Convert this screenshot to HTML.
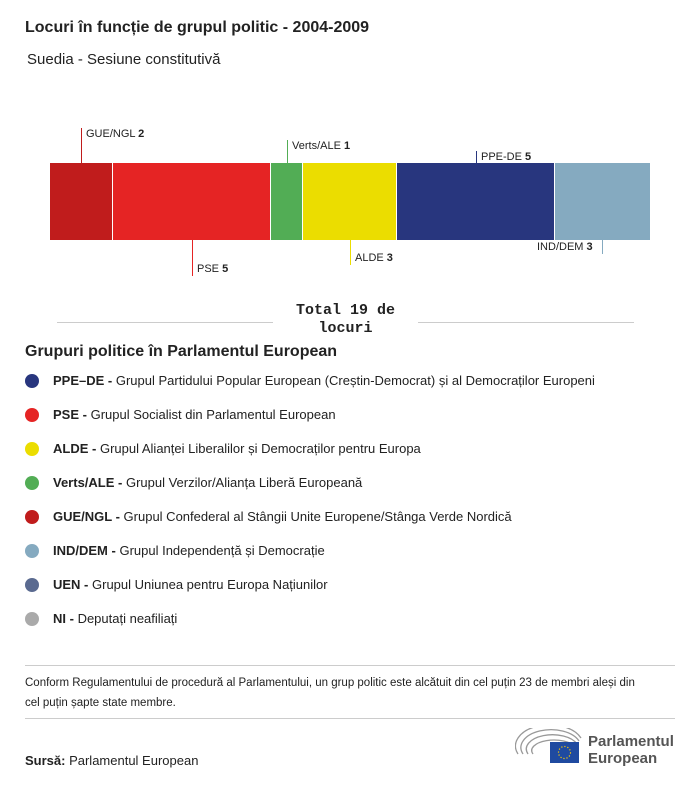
<!DOCTYPE html>
<html><head><meta charset="utf-8"><style>
body{margin:0;background:#fff;font-family:"Liberation Sans",sans-serif;color:#222;}
.wrap{position:relative;width:700px;height:786px;overflow:hidden}
.a{position:absolute;white-space:nowrap}
.seg{position:absolute;top:163px;height:77px}
.ln{position:absolute;width:1px}
.lab{position:absolute;font-size:11px;white-space:nowrap;line-height:12px}
.dot{position:absolute;left:25px;width:14px;height:14px;border-radius:50%}
.li{position:absolute;left:53px;font-size:13px;line-height:16px;white-space:nowrap}
</style></head><body><div class="wrap">
<div class="a" style="left:25px;top:19px;font-size:16px;font-weight:bold">Locuri în funcție de grupul politic - 2004-2009</div>
<div class="a" style="left:27px;top:51px;font-size:15px">Suedia - Sesiune constitutivă</div>

<div class="seg" style="left:50px;width:62px;background:#c01c1c"></div>
<div class="seg" style="left:113px;width:157px;background:#e52424"></div>
<div class="seg" style="left:271px;width:31px;background:#52ad55"></div>
<div class="seg" style="left:303px;width:93px;background:#ebdd00"></div>
<div class="seg" style="left:397px;width:157px;background:#28367e"></div>
<div class="seg" style="left:555px;width:95px;background:#85aac0"></div>

<div class="ln" style="left:81px;top:128px;height:35px;background:#c01c1c"></div>
<div class="lab" style="left:86px;top:128px">GUE/NGL <b>2</b></div>
<div class="ln" style="left:287px;top:140px;height:23px;background:#52ad55"></div>
<div class="lab" style="left:292px;top:140px">Verts/ALE <b>1</b></div>
<div class="ln" style="left:476px;top:151px;height:12px;background:#28367e"></div>
<div class="lab" style="left:481px;top:151px">PPE-DE <b>5</b></div>
<div class="ln" style="left:192px;top:240px;height:36px;background:#e52424"></div>
<div class="lab" style="left:197px;top:263px">PSE <b>5</b></div>
<div class="ln" style="left:350px;top:240px;height:25px;background:#ebdd00"></div>
<div class="lab" style="left:355px;top:252px">ALDE <b>3</b></div>
<div class="ln" style="left:602px;top:240px;height:14px;background:#85aac0"></div>
<div class="lab" style="left:537px;top:241px">IND/DEM <b>3</b></div>

<div style="position:absolute;left:57px;top:322px;width:216px;height:1px;background:#ccc"></div>
<div style="position:absolute;left:418px;top:322px;width:216px;height:1px;background:#ccc"></div>
<div class="a" style="left:273px;top:302px;width:145px;text-align:center;font-family:'Liberation Mono',monospace;font-weight:bold;font-size:15px;line-height:18px;white-space:normal">Total 19 de locuri</div>

<div class="a" style="left:25px;top:343px;font-size:16px;font-weight:bold">Grupuri politice în Parlamentul European</div>

<div class="dot" style="top:374px;background:#28367e"></div><div class="li" style="top:373px"><b>PPE–DE -</b> Grupul Partidului Popular European (Creștin-Democrat) și al Democraților Europeni</div>
<div class="dot" style="top:408px;background:#e52424"></div><div class="li" style="top:407px"><b>PSE -</b> Grupul Socialist din Parlamentul European</div>
<div class="dot" style="top:442px;background:#ebdd00"></div><div class="li" style="top:441px"><b>ALDE -</b> Grupul Alianței Liberalilor și Democraților pentru Europa</div>
<div class="dot" style="top:476px;background:#52ad55"></div><div class="li" style="top:475px"><b>Verts/ALE -</b> Grupul Verzilor/Alianța Liberă Europeană</div>
<div class="dot" style="top:510px;background:#c01c1c"></div><div class="li" style="top:509px"><b>GUE/NGL -</b> Grupul Confederal al Stângii Unite Europene/Stânga Verde Nordică</div>
<div class="dot" style="top:544px;background:#85aac0"></div><div class="li" style="top:543px"><b>IND/DEM -</b> Grupul Independență și Democrație</div>
<div class="dot" style="top:578px;background:#5a6a90"></div><div class="li" style="top:577px"><b>UEN -</b> Grupul Uniunea pentru Europa Națiunilor</div>
<div class="dot" style="top:612px;background:#aaa"></div><div class="li" style="top:611px"><b>NI -</b> Deputați neafiliați</div>

<div style="position:absolute;left:25px;top:665px;width:650px;height:1px;background:#ccc"></div>
<div class="a" style="left:25px;top:673px;font-size:11.5px;line-height:20px;white-space:normal;width:625px">Conform Regulamentului de procedură al Parlamentului, un grup politic este alcătuit din cel puțin 23 de membri aleși din cel puțin șapte state membre.</div>
<div style="position:absolute;left:25px;top:718px;width:650px;height:1px;background:#ccc"></div>
<div class="a" style="left:25px;top:753px;font-size:13px"><b>Sursă:</b> Parlamentul European</div>

<svg style="position:absolute;left:515px;top:728px" width="70" height="40">
<g fill="none" stroke="#999" stroke-width="1.3">
<path d="M3 26 A32 20 0 0 1 66 10"/><path d="M8 26 A27 16 0 0 1 64 13"/><path d="M13 26 A22 12 0 0 1 62 16"/><path d="M18 26 A17 8 0 0 1 60 19"/></g>
<rect x="35" y="14" width="29" height="21" fill="#1f4aa0"/>
<circle cx="49.5" cy="24.5" r="6" fill="none" stroke="#fc0" stroke-width="1.2" stroke-dasharray="1.2 1.9"/>
</svg>
<div class="a" style="left:588px;top:733px;font-size:15px;font-weight:bold;color:#555;line-height:17px">Parlamentul<br>European</div>
</div></body></html>
